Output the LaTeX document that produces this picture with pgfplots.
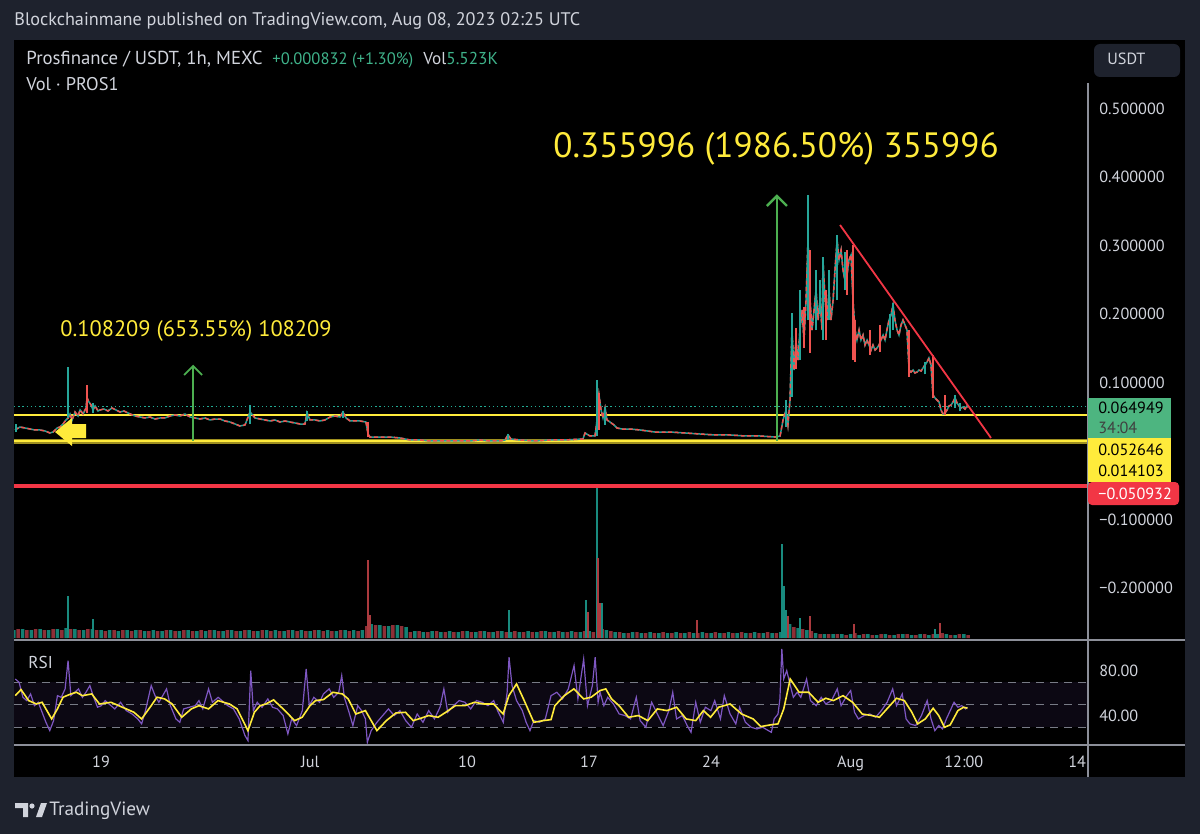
\documentclass[border=0pt]{standalone}
\usepackage{fontspec}
\setmainfont{PT Sans}
\usepackage{pgfplots}
\usepackage{pgfplotstable}
\pgfplotsset{compat=1.18}
\definecolor{bgout}{HTML}{1E222D}
\definecolor{tvtext}{HTML}{D1D4DC}
\definecolor{tvgreen}{HTML}{26A69A}
\definecolor{tvred}{HTML}{EF5350}
\definecolor{tvyellow}{HTML}{FFEB3B}
\definecolor{darkyellow}{HTML}{9E8F1F}
\definecolor{lvlred}{HTML}{F23645}
\definecolor{lblgreen}{HTML}{4DB580}
\definecolor{arrowgreen}{HTML}{4CAF50}
\definecolor{rsipurple}{HTML}{7E57C2}
\definecolor{sep}{HTML}{8C8F99}
\definecolor{dashgray}{HTML}{787B86}
\definecolor{dotgreen}{HTML}{22AB94}
\definecolor{legendgreen}{HTML}{3FB28A}
\definecolor{volgreen}{HTML}{138073}
\definecolor{volred}{HTML}{8E2F37}

\pgfplotsset{
  tvaxis/.style={scale only axis, width=536.5pt, xmin=14.008, xmax=75.568, anchor=south west,
    axis line style={draw=none}, tick style={draw=none}, major tick length=0pt,
    xtick=\empty, ytick=\empty, clip=true},
  tick label style={font=\fontsize{8.1}{9}\selectfont, text=tvtext}
}

\pgfplotstableread{
d p
14.07 0.0307
14.35 0.0350
14.64 0.0336
14.93 0.0321
15.21 0.0307
15.50 0.0307
15.79 0.0292
16.07 0.0263
16.25 0.0277
16.48 0.0336
16.65 0.0350
16.82 0.0394
16.99 0.0453
17.11 0.0482
17.22 0.0540
17.34 0.0453
17.51 0.0569
17.68 0.0511
17.80 0.0599
17.97 0.0540
18.14 0.0628
18.20 0.0774
18.31 0.0715
18.43 0.0672
18.54 0.0599
18.66 0.0657
18.83 0.0584
18.94 0.0599
19.17 0.0613
19.40 0.0584
19.63 0.0628
19.86 0.0599
20.09 0.0569
20.32 0.0584
20.55 0.0555
20.95 0.0511
21.24 0.0496
21.52 0.0482
21.81 0.0496
22.10 0.0467
22.39 0.0482
22.67 0.0482
22.96 0.0511
23.25 0.0526
23.53 0.0511
23.82 0.0540
24.11 0.0496
24.39 0.0482
24.68 0.0467
24.97 0.0482
25.25 0.0453
25.54 0.0467
25.83 0.0467
26.11 0.0438
26.40 0.0423
26.69 0.0394
26.97 0.0365
27.26 0.0380
27.55 0.0569
27.84 0.0482
28.12 0.0467
28.41 0.0453
28.70 0.0438
28.98 0.0453
29.27 0.0423
29.56 0.0438
29.84 0.0423
30.13 0.0409
30.42 0.0394
30.70 0.0394
30.82 0.0555
30.99 0.0453
31.28 0.0453
31.56 0.0438
31.85 0.0453
32.14 0.0496
32.43 0.0511
32.71 0.0496
32.88 0.0569
33.06 0.0482
33.29 0.0438
33.57 0.0438
33.86 0.0438
34.20 0.0423
34.32 0.0248
34.43 0.0204
35.01 0.0204
35.58 0.0204
36.15 0.0190
36.73 0.0161
37.30 0.0161
37.88 0.0146
38.45 0.0146
39.02 0.0146
39.60 0.0146
40.17 0.0146
40.74 0.0161
41.32 0.0146
41.89 0.0146
42.18 0.0161
42.35 0.0234
42.52 0.0175
43.04 0.0161
43.90 0.0146
44.76 0.0161
45.62 0.0161
46.65 0.0175
46.77 0.0263
47.05 0.0219
47.34 0.0219
47.46 0.0453
47.57 0.0818
47.69 0.0599
47.80 0.0482
47.92 0.0628
48.03 0.0453
48.20 0.0423
48.43 0.0380
48.60 0.0336
48.89 0.0321
49.35 0.0321
49.92 0.0307
50.78 0.0277
51.64 0.0277
52.51 0.0263
53.37 0.0248
54.23 0.0234
55.09 0.0234
55.95 0.0219
56.81 0.0219
57.67 0.0204
57.96 0.0219
58.13 0.0453
58.30 0.0599
58.41 0.0380
58.53 0.0745
58.64 0.1766
58.76 0.1182
58.87 0.1620
58.99 0.1328
59.10 0.1766
59.22 0.2058
59.33 0.1620
59.45 0.2204
59.56 0.3080
59.68 0.2204
59.79 0.1766
59.91 0.2058
60.02 0.2350
60.14 0.1912
60.25 0.2204
60.37 0.1766
60.42 0.2788
60.54 0.2204
60.65 0.1912
60.77 0.2350
60.88 0.1912
61.00 0.2204
61.11 0.2642
61.23 0.3080
61.34 0.2788
61.46 0.2934
61.57 0.2642
61.68 0.2496
61.80 0.2569
61.91 0.2788
62.03 0.2861
62.14 0.2204
62.26 0.1766
62.37 0.1620
62.49 0.1766
62.60 0.1620
62.72 0.1693
62.83 0.1547
62.95 0.1620
63.06 0.1547
63.18 0.1474
63.29 0.1547
63.41 0.1474
63.52 0.1504
63.64 0.1547
63.75 0.1620
63.87 0.1693
63.98 0.1620
64.09 0.1766
64.21 0.1912
64.32 0.1985
64.44 0.2131
64.55 0.1912
64.67 0.1766
64.78 0.1693
64.90 0.1839
65.01 0.1912
65.13 0.1839
65.24 0.1766
65.36 0.1182
65.47 0.1153
65.59 0.1182
65.70 0.1139
65.82 0.1153
65.93 0.1182
66.05 0.1168
66.16 0.1212
66.27 0.1255
66.39 0.1299
66.50 0.1358
66.62 0.1255
66.73 0.0818
66.85 0.0774
66.96 0.0745
67.08 0.0715
67.19 0.0599
67.31 0.0540
67.42 0.0555
67.54 0.0599
67.65 0.0657
67.77 0.0672
67.88 0.0715
68.00 0.0774
68.11 0.0701
68.23 0.0657
68.34 0.0628
68.45 0.0642
68.57 0.0613
68.68 0.0657
68.74 0.0642
}\closedata

\pgfplotstableread{
d r
14.08 58.1
14.41 63.5
14.85 53.7
15.29 50.7
15.62 52.2
16.17 37.4
16.50 46.3
16.82 56.7
17.27 59.6
17.59 61.1
17.93 58.1
18.47 59.6
18.91 50.7
19.57 52.2
20.45 46.3
20.89 43.3
21.33 37.4
21.88 49.2
22.21 56.7
22.65 55.2
23.08 50.7
23.63 38.9
24.18 46.3
24.62 49.2
25.17 46.3
25.71 53.7
26.37 50.7
26.81 46.3
27.43 27.0
27.80 43.3
28.13 49.2
28.46 50.7
28.90 54.3
29.45 46.3
30.11 35.9
30.54 38.9
30.99 49.2
31.31 53.7
31.76 54.6
32.31 61.1
32.85 59.6
33.18 55.2
33.62 41.8
34.17 44.8
34.83 27.0
35.37 35.9
35.92 42.7
36.47 43.3
36.91 35.9
37.35 38.0
37.79 40.4
38.34 38.9
38.78 43.3
39.33 49.2
39.88 49.2
40.43 52.2
40.97 50.7
41.52 50.7
42.07 41.8
42.40 58.1
42.84 68.5
43.28 53.7
43.83 34.4
44.38 35.9
44.82 36.8
45.04 49.2
45.58 58.1
46.13 64.1
46.69 55.2
47.12 56.7
47.63 62.6
47.96 64.1
48.29 55.2
48.72 49.2
49.27 38.9
49.83 40.4
50.37 35.9
50.92 46.3
51.47 44.8
52.02 47.8
52.57 37.4
53.12 35.9
53.56 44.8
53.97 38.9
54.43 47.8
55.09 50.7
55.75 41.8
56.41 37.4
56.85 30.6
57.40 32.1
57.84 33.0
58.17 46.3
58.54 72.9
59.05 61.1
59.60 61.1
60.14 52.2
60.58 55.8
61.02 53.7
61.57 58.1
62.12 52.2
62.67 41.8
63.22 40.4
63.66 38.9
64.09 46.3
64.64 55.8
65.09 53.7
65.52 43.3
65.85 33.0
66.29 37.4
66.74 46.9
67.06 40.4
67.39 30.0
67.72 32.1
68.16 44.8
68.49 47.8
68.71 46.9
}\rsima

\pgfplotstableread{
d r
14.08 72.9
14.30 70.0
14.52 56.6
14.74 53.7
14.96 59.6
15.18 49.2
15.40 52.2
15.62 43.3
15.84 34.4
16.06 27.0
16.28 35.9
16.50 58.1
16.72 56.6
16.94 64.1
17.11 89.2
17.27 58.1
17.49 61.1
17.71 64.1
17.93 56.6
18.14 61.1
18.36 67.0
18.58 56.6
18.80 47.8
19.02 49.2
19.24 53.7
19.46 50.7
19.79 46.3
20.12 52.2
20.45 44.8
20.78 41.8
21.11 37.4
21.33 33.0
21.55 44.8
21.88 67.0
22.10 58.1
22.32 52.2
22.54 58.1
22.76 64.1
22.98 49.2
23.30 37.4
23.52 34.4
23.74 46.3
24.07 47.8
24.40 49.2
24.62 53.7
24.84 46.3
25.17 64.1
25.39 52.2
25.72 56.6
25.94 53.7
26.27 49.2
26.60 46.3
26.93 37.4
27.26 22.6
27.43 18.1
27.59 80.4
27.74 44.8
27.96 52.2
28.24 47.8
28.57 55.2
28.84 47.8
29.12 46.3
29.45 40.4
29.72 24.1
29.94 37.4
30.22 31.5
30.55 44.8
30.77 81.8
30.95 49.2
31.21 56.6
31.54 52.2
31.76 59.6
32.09 64.1
32.35 56.6
32.64 61.1
32.81 75.9
32.96 56.6
33.23 43.3
33.45 31.5
33.73 49.2
33.95 44.8
34.17 37.4
34.28 16.6
34.50 27.0
34.83 34.4
35.16 40.4
35.49 46.3
35.82 40.4
36.15 44.8
36.48 35.9
36.81 30.0
37.14 41.8
37.47 34.4
37.80 44.8
38.13 37.4
38.45 47.8
38.67 64.1
38.89 43.3
39.22 49.2
39.55 53.7
39.88 52.2
40.21 46.3
40.54 53.7
40.87 52.2
41.20 49.2
41.53 53.7
41.75 44.8
42.08 34.4
42.30 61.1
42.41 92.2
42.58 67.0
42.84 53.7
43.17 44.8
43.39 34.4
43.61 27.0
43.83 35.9
44.16 34.4
44.49 37.4
44.82 58.1
45.15 61.1
45.48 55.2
45.81 64.1
46.14 84.8
46.36 55.2
46.69 90.7
46.91 49.2
47.19 67.0
47.35 92.2
47.52 52.2
47.63 61.1
47.85 49.2
48.07 56.6
48.40 50.7
48.73 41.8
49.06 40.4
49.38 37.4
49.71 56.6
49.93 35.9
50.26 30.0
50.59 52.2
50.92 41.8
51.25 31.5
51.58 44.8
51.80 61.1
52.02 37.4
52.35 40.4
52.63 31.5
52.85 25.5
53.12 52.2
53.38 34.4
53.67 47.8
53.99 44.8
54.21 53.7
54.54 37.4
54.76 58.1
55.09 41.8
55.42 33.0
55.64 47.8
55.97 34.4
56.30 30.0
56.63 28.5
56.96 30.0
57.29 27.0
57.46 25.5
57.62 37.4
57.84 41.8
57.95 55.2
58.06 99.6
58.17 72.9
58.34 80.4
58.50 70.0
58.72 56.6
58.94 61.1
59.15 56.6
59.48 72.9
59.70 53.7
60.03 49.2
60.32 56.6
60.58 50.7
60.91 53.7
61.24 64.1
61.46 49.2
61.79 58.1
62.01 62.6
62.23 43.3
62.45 37.4
62.78 40.4
63.11 41.8
63.44 38.9
63.77 44.8
64.10 52.2
64.42 64.1
64.64 49.2
64.97 59.6
65.19 37.4
65.41 33.0
65.74 31.5
66.07 40.4
66.40 53.7
66.62 37.4
66.84 27.0
67.06 31.5
67.28 28.5
67.50 37.4
67.72 44.8
67.94 52.2
68.16 47.8
68.38 49.2
68.60 46.3
68.71 47.8
}\rsidata

\begin{document}
\begin{tikzpicture}[x=0.5pt,y=-0.5pt]
\useasboundingbox (0,0) rectangle (1200,834);
\fill[bgout] (0,0) rectangle (1200,834);
\fill[black] (14,40) rectangle (1185,777);

% ---------------- volume pane ----------------
\begin{axis}[tvaxis, at={(7pt,-319pt)}, height=100pt, ymin=0, ymax=200]
\addplot[ybar, bar width=0.2, bar shift=0pt, fill=volgreen, draw=none] coordinates {
(14.0,8)(14.5,9)(15.0,8)(15.5,9)(16.0,8)(16.5,9)(17.0,10)(17.5,9)(18.0,8)(18.5,9)
(19.0,8)(19.5,8)(20.0,7)(20.5,8)(21.0,8)(21.5,7)(22.0,8)(22.5,7)(23.0,8)(23.5,7)
(24.0,8)(24.5,7)(25.0,7)(25.5,8)(26.0,7)(26.5,8)(27.0,7)(27.5,8)(28.0,7)(28.5,8)
(29.0,8)(29.5,7)(30.0,8)(30.5,8)(31.0,7)(31.5,8)(32.0,8)(32.5,7)(33.0,8)(33.5,8)
(34.0,8)(34.5,14)(35.0,13)(35.5,12)(36.0,13)(36.5,11)(37.0,7)(37.5,6)(38.0,7)(38.5,6)
(39.0,7)(39.5,6)(40.0,7)(40.5,6)(41.0,7)(41.5,6)(42.0,7)(42.5,6)(43.0,6)(43.5,7)
(44.0,6)(44.5,7)(45.0,6)(45.5,6)(46.0,7)(46.5,6)(47.0,7)(47.5,9)(48.0,8)(48.5,6)
(49.0,5)(49.5,6)(50.0,5)(50.5,6)(51.0,5)(51.5,5)(52.0,6)(52.5,5)(53.0,5)(53.5,6)
(54.0,5)(54.5,5)(55.0,6)(55.5,5)(56.0,5)(56.5,6)(57.0,5)(57.5,5)(58.0,6)(58.5,14)
(59.0,10)(59.5,8)(60.0,5)(60.5,4)(61.0,4)(61.5,4)(62.0,4)(62.5,3)(63.0,4)(63.5,3)
(64.0,4)(64.5,3)(65.0,4)(65.5,3)(66.0,4)(66.5,3)(67.0,4)(67.5,4)(68.0,3)(68.5,4)};
\addplot[ybar, bar width=0.2, bar shift=0pt, fill=volred, draw=none] coordinates {
(14.25,9)(14.75,8)(15.25,9)(15.75,8)(16.25,9)(16.75,8)(17.25,9)(17.75,8)(18.25,9)(18.75,8)
(19.25,7)(19.75,8)(20.25,8)(20.75,7)(21.25,8)(21.75,7)(22.25,7)(22.75,8)(23.25,7)(23.75,8)
(24.25,7)(24.75,8)(25.25,8)(25.75,7)(26.25,8)(26.75,7)(27.25,8)(27.75,7)(28.25,8)(28.75,7)
(29.25,7)(29.75,8)(30.25,7)(30.75,7)(31.25,8)(31.75,7)(32.25,7)(32.75,8)(33.25,7)(33.75,7)
(34.25,12)(34.75,13)(35.25,12)(35.75,13)(36.25,12)(36.75,6)(37.25,7)(37.75,6)(38.25,7)(38.75,6)
(39.25,6)(39.75,7)(40.25,6)(40.75,7)(41.25,6)(41.75,7)(42.25,6)(42.75,7)(43.25,6)(43.75,6)
(44.25,7)(44.75,6)(45.25,7)(45.75,6)(46.25,6)(46.75,7)(47.25,6)(47.75,9)(48.25,7)(48.75,6)
(49.25,5)(49.75,6)(50.25,5)(50.75,5)(51.25,6)(51.75,5)(52.25,5)(52.75,6)(53.25,5)(53.75,5)
(54.25,6)(54.75,5)(55.25,5)(55.75,6)(56.25,5)(56.75,5)(57.25,6)(57.75,5)(58.25,12)(58.75,11)
(59.25,9)(59.75,7)(60.25,4)(60.75,4)(61.25,4)(61.75,3)(62.25,5)(62.75,4)(63.25,3)(63.75,4)
(64.25,3)(64.75,4)(65.25,4)(65.75,3)(66.25,4)(66.75,4)(67.25,5)(67.75,3)(68.25,4)(68.75,3)};
\addplot[ycomb, volgreen!70!tvgreen, line width=0.7pt] coordinates {
(17.11,42)(18.54,19)(42.41,28)(46.82,38)(47.46,150)(47.74,35)(58.07,94)(58.18,52)(58.30,28)(59.10,20)(66.85,9)};
\addplot[ycomb, volred!70!tvred, line width=0.7pt] coordinates {
(34.32,78)(34.43,23)(46.94,26)(47.51,80)(47.63,35)(53.19,18)(58.41,22)(59.68,22)(62.20,14)(67.14,15)};
\end{axis}

% ---------------- price pane ----------------
\begin{axis}[tvaxis, at={(7pt,-319pt)}, height=299pt, ymin=-0.273, ymax=0.6,
  yticklabel pos=right, ytick={-0.2,-0.1,0.1,0.2,0.3,0.4,0.5},
  yticklabels={−0.200000,−0.100000,0.100000,0.200000,0.300000,0.400000,0.500000},
  yticklabel style={anchor=west, inner sep=0pt, xshift=6pt}]
% horizontal levels
\addplot[darkyellow, line width=2.2pt] coordinates {(14.008,0.014103)(75.568,0.014103)};
\addplot[tvyellow, line width=1.1pt] coordinates {(14.008,0.014103)(75.568,0.014103)};
\addplot[tvyellow, line width=0.8pt] coordinates {(14.008,0.052646)(75.568,0.052646)};
\addplot[lvlred, line width=1.7pt] coordinates {(14.008,-0.050932)(75.568,-0.050932)};
\addplot[dotgreen, line width=0.7pt, dash pattern=on 0.7pt off 1.4pt] coordinates {(14.008,0.064949)(75.568,0.064949)};
% price path
\addplot[tvgreen, line width=0.75pt] table[x=d,y=p] {\closedata};
\addplot[tvred, line width=0.75pt, dash pattern=on 2pt off 1.3pt] table[x=d,y=p] {\closedata};
% wicks
\addplot[tvgreen, line width=1pt, unbounded coords=jump] table {
d p
14.10 0.028
14.10 0.040
nan nan
17.11 0.0482
17.11 0.1226
nan nan
18.55 0.055
18.55 0.070
nan nan
27.55 0.0394
27.55 0.0672
nan nan
30.82 0.044
30.82 0.058
nan nan
32.88 0.0482
32.88 0.0584
nan nan
42.35 0.0161
42.35 0.0248
nan nan
47.46 0.0219
47.46 0.1036
nan nan
47.92 0.0380
47.92 0.0642
nan nan
58.30 0.0350
58.30 0.0745
nan nan
58.64 0.0788
58.64 0.2015
nan nan
59.10 0.1328
59.10 0.2350
nan nan
59.56 0.1912
59.56 0.3737
nan nan
60.02 0.1766
60.02 0.2642
nan nan
60.25 0.200
60.25 0.250
nan nan
60.42 0.1620
60.42 0.2832
nan nan
60.77 0.1912
60.77 0.2642
nan nan
61.23 0.2204
61.23 0.3153
nan nan
61.68 0.235
61.68 0.290
nan nan
64.26 0.165
64.26 0.200
nan nan
64.44 0.1766
64.44 0.2161
nan nan
66.27 0.112
66.27 0.130
nan nan
68.00 0.0628
68.00 0.0818
nan nan
68.30 0.058
68.30 0.070
};
\addplot[tvred, line width=1pt, unbounded coords=jump] table {
d p
18.20 0.0555
18.20 0.0964
nan nan
34.32 0.0204
34.32 0.0423
nan nan
47.57 0.0307
47.57 0.0847
nan nan
58.87 0.120
58.87 0.180
nan nan
59.33 0.150
59.33 0.210
nan nan
59.68 0.1431
59.68 0.2934
nan nan
60.60 0.1620
60.60 0.2350
nan nan
61.80 0.2277
61.80 0.2934
nan nan
62.14 0.1328
62.14 0.3007
nan nan
62.26 0.1299
62.26 0.1912
nan nan
63.12 0.1401
63.12 0.1766
nan nan
63.69 0.1445
63.69 0.1839
nan nan
65.36 0.1080
65.36 0.1766
nan nan
66.73 0.0774
66.73 0.1401
nan nan
67.42 0.0526
67.42 0.0818
};
% trend line
\draw[lvlred, line width=0.9pt] (axis cs:61.40,0.3299) -- (axis cs:70.06,0.0190);
% green measure arrows
\draw[arrowgreen, line width=0.9pt] (axis cs:24.28,0.0146) -- (axis cs:24.28,0.1241);
\draw[arrowgreen, line width=0.9pt] ([xshift=-4.5pt,yshift=-4.5pt]axis cs:24.28,0.1241) -- (axis cs:24.28,0.1241) -- ([xshift=4.5pt,yshift=-4.5pt]axis cs:24.28,0.1241);
\draw[arrowgreen, line width=1.2pt] (axis cs:57.78,0.0146) -- (axis cs:57.78,0.3723);
\draw[arrowgreen, line width=1.2pt] ([xshift=-5pt,yshift=-5pt]axis cs:57.78,0.3723) -- (axis cs:57.78,0.3723) -- ([xshift=5pt,yshift=-5pt]axis cs:57.78,0.3723);
\end{axis}

% ---------------- RSI pane ----------------
\begin{axis}[tvaxis, at={(7pt,-372.5pt)}, height=52pt, ymin=14.22, ymax=106.67,
  xtick={19,31,40,47,54,62,68.5,75}, xticklabels={19,Jul,10,17,24,Aug,12:00,14},
  xticklabel style={anchor=base, yshift=-11pt},
  ytick={40,80}, yticklabels={40.00,80.00}, yticklabel pos=right,
  yticklabel style={anchor=west, inner sep=0pt, xshift=6pt}]
\addplot[fill=rsipurple, fill opacity=0.1, draw=none] coordinates {(14.008,30)(75.568,30)(75.568,70)(14.008,70)} -- cycle;
\addplot[dashgray, line width=0.6pt, dash pattern=on 4pt off 3pt] coordinates {(14.008,70)(75.568,70)};
\addplot[dashgray, line width=0.6pt, dash pattern=on 4pt off 3pt] coordinates {(14.008,50)(75.568,50)};
\addplot[dashgray, line width=0.6pt, dash pattern=on 4pt off 3pt] coordinates {(14.008,30)(75.568,30)};
\addplot[rsipurple, line width=0.6pt] table[x=d,y=r] {\rsidata};
\addplot[tvyellow, line width=0.8pt] table[x=d,y=r] {\rsima};
\end{axis}

% ---------------- frame, separators ----------------
\draw[sep, line width=0.7pt] (14,640) -- (1185,640);
\draw[sep, line width=0.7pt] (14,745) -- (1185,745);
\draw[sep, line width=0.6pt] (1088,83) -- (1088,777);

% price scale labels
\fill[lblgreen] (1088,398) rectangle (1171,438);
\fill[tvyellow] (1088,438) rectangle (1171,482);
\fill[lvlred, rounded corners=2pt] (1088,482) rectangle (1179,505);
\begin{scope}[every node/.style={anchor=base west, inner sep=0pt, font=\fontsize{8.1}{9}\selectfont}]
\node[text=black] at (1098,414) {0.064949};
\node[text=black!75] at (1098,433) {34:04};
\node[text=black] at (1098,455) {0.052646};
\node[text=black] at (1098,476) {0.014103};
\node[text=white] at (1098,499) {−0.050932};
\end{scope}

% USDT button
\fill[bgout, rounded corners=3pt] (1094,44) rectangle (1180,77);
\node[anchor=base west, inner sep=0pt, text=tvtext, font=\fontsize{8.1}{9}\selectfont] at (1107,65) {USDT};

% yellow left arrow
\fill[tvyellow] (55,432) -- (72,418) -- (72,424) -- (86,424) -- (86,438) -- (72,438) -- (72,446) -- cycle;

% header and legend
\node[anchor=base west, inner sep=0pt, text=tvtext, font=\fontsize{9.1}{10}\selectfont] at (14,25.5) {Blockchainmane published on TradingView.com, Aug 08, 2023 02:25 UTC};
\begin{scope}[every node/.style={anchor=base west, inner sep=0pt, font=\fontsize{8.6}{10}\selectfont}]
\node[text=tvtext, font=\fontsize{9.4}{10}\selectfont] at (26,65) {Prosfinance / USDT, 1h, MEXC};
\node[text=legendgreen, font=\fontsize{8.3}{10}\selectfont] at (272,65) {+0.000832 (+1.30\%)};
\node[text=tvtext] at (423,65) {Vol};
\node[text=legendgreen] at (446,65) {5.523K};
\node[text=tvtext, font=\fontsize{9.2}{10}\selectfont] at (26,91) {Vol · PROS1};
\node[text=tvtext] at (28,668) {RSI};
\end{scope}

% annotations
\node[anchor=base west, inner sep=0pt, text=tvyellow, font=\fontsize{11.2}{12}\selectfont] at (60,336) {0.108209 (653.55\%) 108209};
\node[anchor=base west, inner sep=0pt, text=tvyellow, font=\fontsize{17.6}{19}\selectfont] at (553,158) {0.355996 (1986.50\%) 355996};

% footer logo
\fill[tvtext] (15,803) -- (28,803) -- (28,817) -- (23,817) -- (23,808) -- (15,808) -- cycle;
\fill[tvtext] (32,806) circle (2.6);
\fill[tvtext] (36,817) -- (41,803) -- (47,803) -- (42,817) -- cycle;
\node[anchor=base west, inner sep=0pt, text=tvtext, font=\fontsize{9.6}{11}\selectfont] at (49,815) {TradingView};
\end{tikzpicture}
\end{document}
